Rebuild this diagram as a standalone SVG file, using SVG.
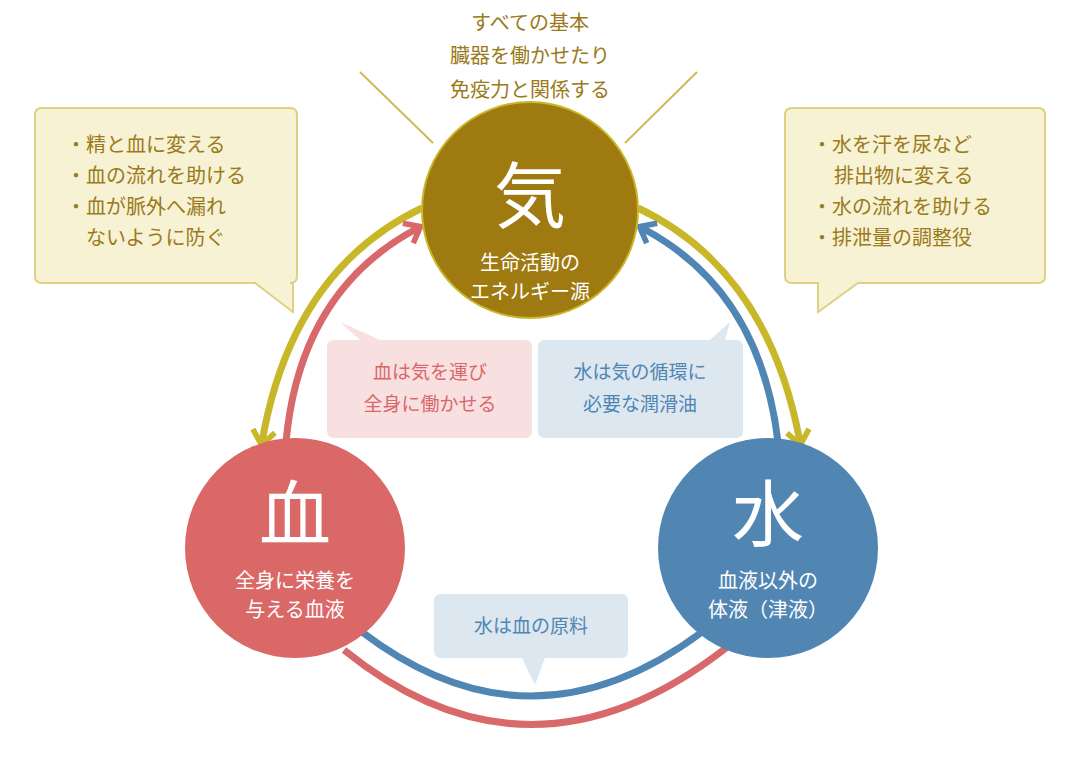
<svg xmlns="http://www.w3.org/2000/svg" width="1080" height="760" viewBox="0 0 1080 760">
<defs>
<style>
text{font-family:"Noto Sans CJK JP","Noto Sans",sans-serif}
.gold{fill:#9a7a1a;font-size:20px}
.big{fill:#fff;font-size:72px;text-anchor:middle}
.sub{fill:#fff;font-size:20px;text-anchor:middle}
.y{stroke:#c9b72a;stroke-width:7;fill:none}
.r{stroke:#d9686a;stroke-width:7;fill:none}
.b{stroke:#4f86b4;stroke-width:7;fill:none}
.ybox{fill:#f7f2d4;stroke:#ded186;stroke-width:2}
</style>
<marker id="ay" viewBox="0 0 10 10" refX="5" refY="5" markerWidth="4" markerHeight="4" orient="auto"><path d="M1,1 L6,5 L1,9" fill="none" stroke="#c9b72a" stroke-width="2"/></marker>
<marker id="ar" viewBox="0 0 10 10" refX="5" refY="5" markerWidth="4" markerHeight="4" orient="auto"><path d="M1,1 L6,5 L1,9" fill="none" stroke="#d9686a" stroke-width="2"/></marker>
<marker id="ab" viewBox="0 0 10 10" refX="5" refY="5" markerWidth="4" markerHeight="4" orient="auto"><path d="M1,1 L6,5 L1,9" fill="none" stroke="#4f86b4" stroke-width="2"/></marker>
</defs>
<rect width="1080" height="760" fill="#fff"/>
<g id="connectors">
<path class="y" d="M422,208 Q292,270 262,442" marker-end="url(#ay)"/>
<path class="y" d="M638,208 Q768,270 800,442" marker-end="url(#ay)"/>
<path class="r" d="M286,442 Q300,290 418,228" marker-end="url(#ar)"/>
<path class="b" d="M778,442 Q760,290 642,228" marker-end="url(#ab)"/>
<path class="b" d="M362,632 Q530,760 702,632"/>
<path class="r" d="M344,650 Q530,800 726,648"/>
<line x1="360" y1="72" x2="433" y2="143" stroke="#cdbb55" stroke-width="2"/>
<line x1="697" y1="72" x2="625" y2="143" stroke="#cdbb55" stroke-width="2"/>
</g>
<g id="top-text" class="gold" text-anchor="middle">
<text x="530" y="30">すべての基本</text>
<text x="530" y="63">臓器を働かせたり</text>
<text x="530" y="97">免疫力と関係する</text>
</g>
<g id="ki">
<circle cx="530" cy="210" r="108" fill="#9e7a10" stroke="#c9b72a" stroke-width="2"/>
<text class="big" x="530" y="222">気</text>
<text class="sub" x="530" y="270">生命活動の</text>
<text class="sub" x="530" y="299">エネルギー源</text>
</g>
<g id="ketsu">
<circle cx="295" cy="548" r="110" fill="#d96866"/>
<text class="big" x="295" y="540">血</text>
<text class="sub" x="295" y="588">全身に栄養を</text>
<text class="sub" x="295" y="617">与える血液</text>
</g>
<g id="sui">
<circle cx="768" cy="548" r="110" fill="#5186b3"/>
<text class="big" x="768" y="540">水</text>
<text class="sub" x="768" y="588">血液以外の</text>
<text class="sub" x="768" y="617">体液（津液）</text>
</g>
<g id="callout-left">
<path class="ybox" d="M42,108 H290 Q297,108 297,115 V276 Q297,283 290,283 H293 L293,312 L255,283 H42 Q35,283 35,276 V115 Q35,108 42,108 Z"/>
<g class="gold">
<text x="66" y="152">・精と血に変える</text>
<text x="66" y="183">・血の流れを助ける</text>
<text x="66" y="214">・血が脈外へ漏れ</text>
<text x="86" y="245">ないように防ぐ</text>
</g>
</g>
<g id="callout-right">
<path class="ybox" d="M792,108 H1038 Q1045,108 1045,115 V276 Q1045,283 1038,283 H858 L818,312 L818,283 H792 Q785,283 785,276 V115 Q785,108 792,108 Z"/>
<g class="gold">
<text x="812" y="152">・水を汗を尿など</text>
<text x="834" y="183">排出物に変える</text>
<text x="812" y="214">・水の流れを助ける</text>
<text x="812" y="245">・排泄量の調整役</text>
</g>
</g>
<g id="callout-pink">
<path d="M334,340 H380 L340,322 L360,340 H525 Q532,340 532,347 V431 Q532,438 525,438 H334 Q327,438 327,431 V347 Q327,340 334,340 Z" fill="#f8e0e0"/>
<text x="430" y="379" fill="#d9686a" font-size="19" text-anchor="middle">血は気を運び</text>
<text x="430" y="411" fill="#d9686a" font-size="19" text-anchor="middle">全身に働かせる</text>
</g>
<g id="callout-blue">
<path d="M545,340 H710 L730,322 L725,340 H736 Q743,340 743,347 V431 Q743,438 736,438 H545 Q538,438 538,431 V347 Q538,340 545,340 Z" fill="#dde7ef"/>
<text x="640" y="379" fill="#4f86b4" font-size="19" text-anchor="middle">水は気の循環に</text>
<text x="640" y="411" fill="#4f86b4" font-size="19" text-anchor="middle">必要な潤滑油</text>
</g>
<g id="callout-bottom">
<path d="M441,594 H621 Q628,594 628,601 V651 Q628,658 621,658 H545 L535,685 L522,658 H441 Q434,658 434,651 V601 Q434,594 441,594 Z" fill="#dde7ef"/>
<text x="531" y="633" fill="#4f86b4" font-size="19" text-anchor="middle">水は血の原料</text>
</g>
</svg>
